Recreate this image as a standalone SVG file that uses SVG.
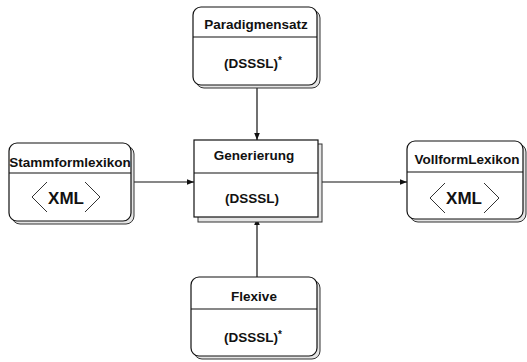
<svg xmlns="http://www.w3.org/2000/svg" width="527" height="362" viewBox="0 0 527 362">
<style>
.box{fill:#fff;stroke:#111;stroke-width:1.2}
.shadow{fill:#e4e4e4;stroke:#333;stroke-width:1}
.div{stroke:#111;stroke-width:1.2}
.t{font-family:"Liberation Sans",Arial,sans-serif;font-weight:bold;font-size:13.5px;fill:#111;text-anchor:middle}
.xml{font-family:"Liberation Sans",Arial,sans-serif;font-weight:bold;font-size:17px;fill:#111;text-anchor:middle}
.sup{font-family:"Liberation Sans",Arial,sans-serif;font-weight:bold;font-size:10px;fill:#111}
.br{fill:none;stroke:#333;stroke-width:1}
.edge{stroke:#111;stroke-width:1.2;fill:none}
</style>
<defs>
<marker id="arr" viewBox="0 0 10 10" refX="10" refY="5" markerWidth="7" markerHeight="7" orient="auto" markerUnits="userSpaceOnUse">
<path d="M0,1 L10,5 L0,9 z" fill="#111"/>
</marker>
</defs>
<g id="connectors">
<line class="edge" x1="257" y1="88" x2="257" y2="140" marker-end="url(#arr)"/>
<line class="edge" x1="134" y1="182" x2="194" y2="182" marker-end="url(#arr)"/>
<line class="edge" x1="322" y1="182" x2="407" y2="182" marker-end="url(#arr)"/>
<line class="edge" x1="257" y1="277" x2="257" y2="218" marker-end="url(#arr)"/>
</g>
<g id="paradigmensatz">
<rect class="shadow" x="196" y="10" width="124" height="78" rx="8"/>
<rect class="box" x="193" y="7" width="124" height="78" rx="8"/>
<line class="div" x1="193" y1="37" x2="317" y2="37"/>
<text class="t" x="256" y="29">Paradigmensatz</text>
<text class="t" x="251" y="68">(DSSSL)</text>
<text class="sup" x="278" y="64">*</text>
</g>
<g id="stammformlexikon">
<rect class="shadow" x="12" y="146" width="122" height="78" rx="8"/>
<rect class="box" x="9" y="143" width="122" height="78" rx="8"/>
<line class="div" x1="9" y1="173" x2="131" y2="173"/>
<text class="t" x="70" y="167">Stammformlexikon</text>
<polyline class="br" points="47,182 32,197 47,212"/>
<polyline class="br" points="85,182 100,197 85,212"/>
<text class="xml" x="66" y="204">XML</text>
</g>
<g id="generierung">
<rect class="shadow" x="198" y="144" width="124" height="78"/>
<rect class="box" x="194" y="140" width="124" height="77"/>
<line class="div" x1="194" y1="173" x2="318" y2="173"/>
<text class="t" x="254" y="160">Generierung</text>
<text class="t" x="252" y="203">(DSSSL)</text>
</g>
<g id="vollformlexikon">
<rect class="shadow" x="410" y="144" width="116" height="78" rx="8"/>
<rect class="box" x="407" y="141" width="116" height="78" rx="8"/>
<line class="div" x1="407" y1="172" x2="523" y2="172"/>
<text class="t" x="467" y="164">VollformLexikon</text>
<polyline class="br" points="445,183 430,198 445,213"/>
<polyline class="br" points="484,183 499,198 484,213"/>
<text class="xml" x="464" y="204">XML</text>
</g>
<g id="flexive">
<rect class="shadow" x="194" y="280" width="126" height="79" rx="8"/>
<rect class="box" x="191" y="277" width="126" height="79" rx="8"/>
<line class="div" x1="191" y1="309" x2="317" y2="309"/>
<text class="t" x="254" y="301">Flexive</text>
<text class="t" x="251" y="342">(DSSSL)</text>
<text class="sup" x="278" y="338">*</text>
</g>
</svg>
